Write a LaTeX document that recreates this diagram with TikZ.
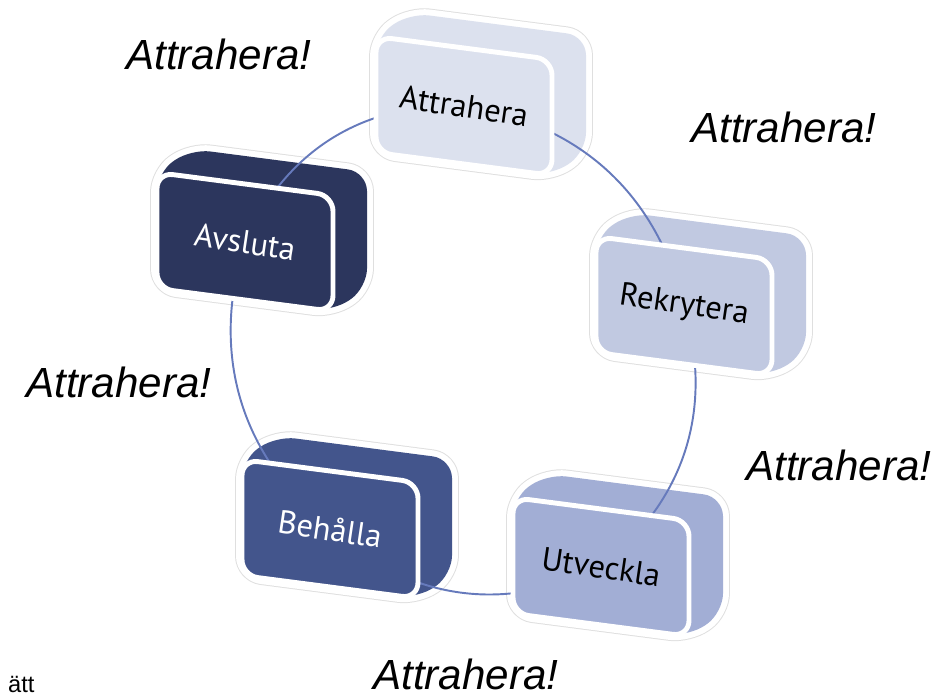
\documentclass[tikz,border=0pt]{standalone}
\usepackage{fontspec}
\setmainfont{Liberation Sans}
\newfontfamily\boxfont{PT Sans}

\definecolor{attfill}{RGB}{220,225,238}
\definecolor{rekfill}{RGB}{193,201,225}
\definecolor{utvfill}{RGB}{162,174,213}
\definecolor{behfill}{RGB}{67,85,140}
\definecolor{avsfill}{RGB}{44,54,93}
\definecolor{linkblue}{RGB}{102,122,188}

% outline of one box (front and back together), local units
\newcommand\boxhull{(-88,-58) -- (-88,58) -- (-54,86) -- (122,86) -- (122,-30) -- (88,-58) -- cycle}

\tikzset{
  link/.style={draw=linkblue, line width=1.1pt},
  boxlabel/.style={font=\boxfont\fontsize{18.5}{22}\selectfont, rotate=-8.5},
  callout/.style={font=\itshape\fontsize{24}{28}\selectfont, anchor=base west},
}

\begin{document}
\begin{tikzpicture}[x=0.02cm, y=0.02cm]
  \useasboundingbox (0,0) rectangle (935,697);

  \coordinate (att) at (464,591);
  \coordinate (rek) at (684,391);
  \coordinate (utv) at (601,130);
  \coordinate (beh) at (330,168);
  \coordinate (avs) at (245,455);

  % back parts
  \foreach \name/\col in {att/attfill, rek/rekfill, utv/utvfill, beh/behfill, avs/avsfill}{
    \begin{scope}[shift={(\name)}, yslant=-0.13]
      \draw[draw=gray!25, line width=7.9pt, rounded corners=11pt, line join=round] \boxhull;
      \draw[draw=white, line width=6.8pt, rounded corners=11pt, line join=round] \boxhull;
      \fill[\col, rounded corners=11pt] \boxhull;
    \end{scope}
  }

  % cycle
  \draw[link] (att) to[bend left=34] (rek);
  \draw[link] (rek) to[bend left=34] (utv);
  \draw[link] (utv) to[bend left=34] (beh);
  \draw[link] (beh) to[bend left=34] (avs);
  \draw[link] (avs) to[bend left=34] (att);

  % front faces
  \foreach \name/\col/\txt/\lbl in {att/attfill/black/Attrahera, rek/rekfill/black/Rekrytera,
      utv/utvfill/black/Utveckla, beh/behfill/white/Behålla, avs/avsfill/white/Avsluta}{
    \begin{scope}[shift={(\name)}, yslant=-0.13]
      \draw[fill=\col, draw=white, line width=2.8pt, rounded corners=9pt] (-88,-58) rectangle (88,58);
      \node[boxlabel, text=\txt] (\name-text) at (0,0) {\lbl};
    \end{scope}
  }

  \node[callout] (call1) at (120,627) {Attrahera!};
  \node[callout] (call2) at (685,554) {Attrahera!};
  \node[callout] (call3) at (20,300) {Attrahera!};
  \node[callout] (call4) at (740,217) {Attrahera!};
  \node[callout] (call5) at (367,8) {Attrahera!};
  \node[anchor=base west, font=\fontsize{13.5}{15}\selectfont] (frag) at (2,5) {ätt};
\end{tikzpicture}
\end{document}
